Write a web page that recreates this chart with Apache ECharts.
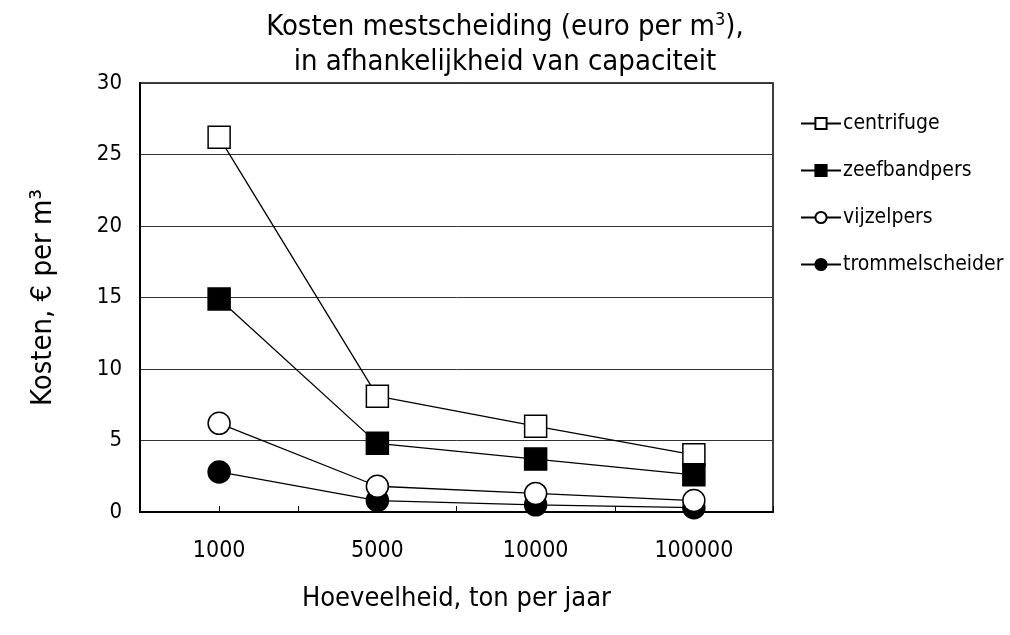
<!DOCTYPE html>
<html>
<head>
<meta charset="utf-8">
<script src="https://cdn.jsdelivr.net/npm/echarts@6/dist/echarts.min.js"></script>
<style>html,body{margin:0;padding:0;background:#fff}#c{width:1010px;height:635px}</style>
</head>
<body>
<div id="c"></div>
<script>
const categories = ['1000', '5000', '10000', '100000'];
const centrifuge = [26.2, 8.1, 6.0, 4.0];
const zeefbandpers = [14.9, 4.8, 3.7, 2.6];
const vijzelpers = [6.2, 1.8, 1.3, 0.8];
const trommelscheider = [2.8, 0.8, 0.5, 0.3];
const yTicks = [0, 5, 10, 15, 20, 25, 30];

const FONT = '"DejaVu Sans Condensed", "Liberation Sans Narrow", "Liberation Sans", Arial, sans-serif';
const chart = echarts.init(document.getElementById('c'));

function mk(name, data, symbol, fill, z) {
  return {
    name, type: 'line', data, symbol, symbolSize: 22, z,
    lineStyle: { color: '#000', width: 1.3 },
    itemStyle: { color: fill, borderColor: '#000', borderWidth: 1.5 },
    emphasis: { disabled: true },
    animation: false
  };
}

chart.setOption({
  backgroundColor: '#fff',
  animation: false,
  title: {
    text: 'Kosten mestscheiding (euro per m{sup|3}),\nin afhankelijkheid van capaciteit',
    left: 500, top: 5, textAlign: 'center',
    textStyle: {
      fontFamily: FONT, fontSize: 29, fontWeight: 'normal', color: '#000', lineHeight: 35,
      rich: { sup: { fontFamily: FONT, fontSize: 18, color: '#000', lineHeight: 35, padding: [0, 0, 14, 0] } }
    }
  },
  legend: {
    orient: 'vertical', left: 795, top: 108,
    itemWidth: 40, itemHeight: 14, itemGap: 26,
    data: ['centrifuge', 'zeefbandpers', 'vijzelpers', 'trommelscheider'],
    textStyle: { fontFamily: FONT, fontSize: 21, color: '#000', padding: [0, 0, 0, -3] },
    selectedMode: false
  },
  grid: { left: 140, right: 237, top: 83, bottom: 123, show: true, borderColor: '#000', borderWidth: 1.5 },
  xAxis: [{
    type: 'category', data: categories, boundaryGap: true,
    name: 'Hoeveelheid, ton per jaar', nameLocation: 'middle', nameGap: 73,
    nameTextStyle: { fontFamily: FONT, fontSize: 27, color: '#000' },
    axisLine: { lineStyle: { color: '#000', width: 2 } },
    axisTick: { show: false },
    axisLabel: { fontFamily: FONT, fontSize: 23, color: '#000', margin: 28 },
    splitLine: { show: false }
  }, {
    type: 'category', data: categories.flatMap(c => [c, c]), boundaryGap: true, position: 'bottom',
    axisLine: { show: false },
    axisTick: { show: true, inside: true, length: 6, lineStyle: { color: '#000', width: 1 } },
    axisLabel: { show: false },
    splitLine: { show: false }
  }],
  yAxis: {
    type: 'value', min: yTicks[0], max: yTicks[yTicks.length - 1], interval: 5,
    name: 'Kosten, € per m³', nameLocation: 'middle', nameGap: 82,
    nameTextStyle: { fontFamily: FONT, fontSize: 29, color: '#000' },
    axisLine: { show: true, lineStyle: { color: '#000', width: 2 } },
    axisTick: { show: false },
    axisLabel: { fontFamily: FONT, fontSize: 22, color: '#000', margin: 18 },
    splitLine: { show: true, lineStyle: { color: '#333', width: 1 } }
  },
  series: [
    mk('centrifuge', centrifuge, 'rect', '#fff', 2),
    mk('zeefbandpers', zeefbandpers, 'rect', '#000', 3),
    mk('vijzelpers', vijzelpers, 'circle', '#fff', 5),
    mk('trommelscheider', trommelscheider, 'circle', '#000', 4)
  ]
});
</script>
</body>
</html>
